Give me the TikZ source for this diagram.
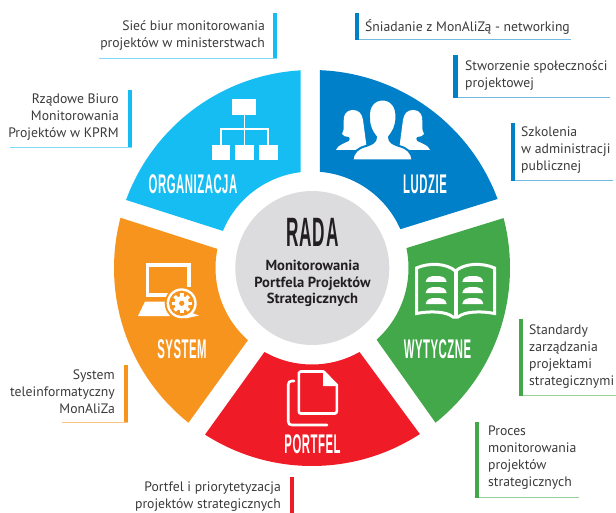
\documentclass[tikz,border=0pt]{standalone}
\usepackage{fontspec}
\setmainfont{PT Sans}
\newfontfamily\condfont[FakeStretch=0.42,LetterSpace=2]{Liberation Sans Bold}
\definecolor{cOrg}{HTML}{16BDF2}
\definecolor{cLud}{HTML}{0080C8}
\definecolor{cWyt}{HTML}{43A84A}
\definecolor{cPor}{HTML}{EF1C27}
\definecolor{cSys}{HTML}{F7941E}
\definecolor{cGray}{HTML}{DCDCDE}
\definecolor{cText}{HTML}{3A3A3C}
\definecolor{cDark}{HTML}{231F20}
\newcommand\sector[5]{\fill[#1] ([shift={(312,268)}]#2:198pt) arc[start angle=#2,end angle=#3,radius=198pt] -- ([shift={(312,268)}]#4:96.5pt) arc[start angle=#4,end angle=#5,radius=96.5pt] -- cycle;}
\newcommand\callout[6]{% colour, bar x, y top, y bottom, line far x, bar width
  \fill[#1] (#2,#3) rectangle ++(#6,#4-#3);
  \draw[#1!55,line width=1pt] (#5,#4-0.5) -- (#2+#6,#4-0.5);}
\tikzset{
  lblL/.style={anchor=west,align=left,inner sep=0pt,text=cText,font=\fontsize{13.7}{17}\selectfont},
  lblR/.style={anchor=east,align=right,inner sep=0pt,text=cText,font=\fontsize{13.7}{17}\selectfont},
  secname/.style={inner sep=0pt,text=white,font=\fontsize{27}{27}\condfont},
  iconline/.style={draw=white,line width=1.5pt},
  iconthick/.style={draw=white,line width=2.6pt,line join=round,line cap=round}
}
\begin{document}
\begin{tikzpicture}[x=1pt,y=-1pt]
\useasboundingbox (0,0) rectangle (616,513);
% sectors
\sector{cOrg}{93.3}{159.9}{157.4}{96.8}
\sector{cLud}{87.7}{20.4}{23.7}{85.3}
\sector{cWyt}{14.6}{-51.4}{-48}{11.9}
\sector{cPor}{-57}{-122.7}{-119.5}{-60.5}
\sector{cSys}{165.3}{231.4}{228.4}{168.6}
% centre
\fill[cGray] (312.3,268) circle[radius=77pt];
\node[inner sep=0pt,text=cDark,font=\fontsize{41}{41}\condfont] (rada) at (312.5,232.5) {RADA};
\node[inner sep=0pt,align=center,text=cDark,font=\fontsize{14.6}{16.6}\selectfont\bfseries] (radasub) at (312.5,283.5) {Monitorowania\\Portfela Projektów\\Strategicznych};
% sector names
\node[secname] (org) at (193,184.7) {ORGANIZACJA};
\node[secname] (lud) at (425,184.7) {LUDZIE};
\node[secname] (wyt) at (437.5,349.5) {WYTYCZNE};
\node[secname] (por) at (312.5,444.5) {PORTFEL};
\node[secname] (sys) at (182,349.5) {SYSTEM};
% organisation icon
\fill[white] (232.3,99.3) rectangle (256.3,115);
\fill[white] (212.3,145) rectangle (229.7,160);
\fill[white] (235,145) rectangle (253.7,160);
\fill[white] (258.7,145) rectangle (277.7,160);
\draw[iconline] (244.5,115) -- (244.5,145);
\draw[iconline] (221,145) -- (221,129) -- (268,129) -- (268,145);
% people icon
\fill[white] (336,150) .. controls (338,145) and (343,144) .. (349,141) .. controls (350,139) and (350,138) .. (349,137) .. controls (346,137) and (343,136) .. (342,134) .. controls (345,130) and (343,122) .. (344,117) .. controls (345,112) and (349,110) .. (353,110) .. controls (359,110) and (362,114) .. (363,120) -- (367,150) -- cycle;
\fill[white] (430,150) .. controls (428,145) and (423,144) .. (417,141) .. controls (416,139) and (416,138) .. (417,137) .. controls (420,137) and (423,136) .. (424,134) .. controls (421,130) and (423,122) .. (422,117) .. controls (421,112) and (417,110) .. (413,110) .. controls (407,110) and (404,114) .. (403,120) -- (399,150) -- cycle;
\filldraw[fill=white,draw=cLud,line width=2pt] (352.5,160.5) .. controls (353,152) and (358,148) .. (366,146) .. controls (372,144) and (376,142) .. (376,137) .. controls (372,132) and (369,127) .. (369,118) .. controls (368,106) and (374,99.5) .. (382.7,99.5) .. controls (391,99.5) and (397,106) .. (396.5,118) .. controls (396,127) and (393,132) .. (389,137) .. controls (389,142) and (393,144) .. (399,146) .. controls (407,148) and (412,152) .. (412.5,160.5) -- cycle;
% system icon
\draw[white,line width=3.3pt,line cap=butt,line join=miter] (168,295) -- (147.7,295) -- (147.7,265) -- (189,265) -- (189,287);
\fill[white] (145,301.5) -- (170,301.5) -- (170,316) -- (138,316) -- cycle;
\fill[cSys] (181.7,303.3) circle[radius=17pt];
\fill[white] (189,312) -- (199,315.5) -- (185,318.5) -- cycle;
\fill[white] (181.7,303.3) circle[radius=15pt];
\fill[cSys] (181.7,303.3) circle[radius=12.6pt];
\foreach \a in {0,45,...,315}{\fill[white,rotate around={\a:(181.7,303.3)}] (179.9,293.2) rectangle (183.5,297);}
\fill[white] (181.7,303.3) circle[radius=7.2pt];
\fill[cSys] (181.7,303.3) circle[radius=2.6pt];
% book icon
\draw[white,line width=3pt,line join=miter] (416.5,268) .. controls (429,262.5) and (446,263) .. (455.5,271) .. controls (465,263) and (482,262.5) .. (494.5,268) -- (494.5,313.5) .. controls (482,311) and (465,311) .. (458,317) -- (453,317) .. controls (446,311) and (429,311) .. (416.5,313.5) -- cycle;
\draw[white,line width=4pt] (455.5,271) -- (455.5,318);
\foreach \yy in {276,287,298}{
 \fill[white] (425.7,\yy+6) .. controls (426.5,\yy+1) and (430,\yy) .. (436,\yy) .. controls (442,\yy) and (445.9,\yy+1) .. (446.7,\yy+6) -- cycle;
 \fill[white] (462.3,\yy+6) .. controls (463.1,\yy+1) and (467,\yy) .. (473,\yy) .. controls (479,\yy) and (482.5,\yy+1) .. (483.3,\yy+6) -- cycle;
}
% portfolio icon
\draw[iconthick] (298.8,373) .. controls (298.8,372) and (299.5,371.5) .. (300.5,371.5) -- (323.5,371.5) -- (336.8,385) -- (336.8,411) .. controls (336.8,412.5) and (336,413.5) .. (335,413.5) -- (300.5,413.5) .. controls (299.5,413.5) and (298.8,412.5) .. (298.8,411) -- cycle;
\fill[white] (323,371) -- (323,386) -- (337,386) -- cycle;
\draw[iconthick] (294,381) -- (292,381) .. controls (289.5,381) and (288.2,382) .. (288.2,385) -- (288.2,421) .. controls (288.2,424) and (289.5,425) .. (292,425) -- (327,425);
% callouts
\callout{cOrg}{273}{13}{59}{99}{4}
\node[lblR] (t1) at (265,35.5) {Sieć biur monitorowania\\projektów w ministerstwach};
\callout{cOrg}{128}{90}{148}{10}{4}
\node[lblR] (t2) at (119,117) {Rządowe Biuro\\Monitorowania\\Projektów w KPRM};
\callout{cLud}{355}{13}{40}{571}{4}
\node[lblL] (t3) at (365,27) {Śniadanie z MonAliZą - networking};
\callout{cLud}{453}{55}{98}{610}{5}
\node[lblL] (t4) at (465,75.5) {Stworzenie społeczności\\projektowej};
\callout{cLud}{511}{123}{181}{613}{4}
\node[lblL] (t5) at (521,150.5) {Szkolenia\\w administracji\\publicznej};
\callout{cWyt}{519}{319}{396}{616}{4}
\node[lblL] (t6) at (529,356.5) {Standardy\\zarządzania\\projektami\\strategicznymi};
\callout{cWyt}{475}{422}{498}{579}{4}
\node[lblL] (t7) at (488,458) {Proces\\monitorowania\\projektów\\strategicznych};
\callout{cSys}{124}{365}{423}{62}{4}
\node[lblR] (t8) at (115,392) {System\\teleinformatyczny\\MonAliZa};
\fill[cPor] (290,477) rectangle (293.5,513);
\node[lblR] (t9) at (281,496.5) {Portfel i priorytetyzacja\\projektów strategicznych};
\end{tikzpicture}
\end{document}
